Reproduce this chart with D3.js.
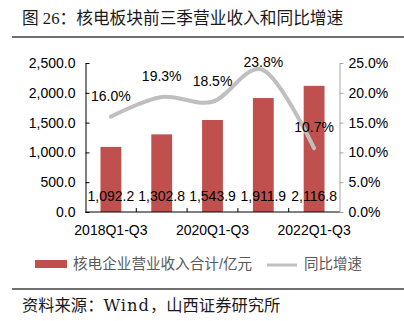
<!DOCTYPE html>
<html><head><meta charset="utf-8">
<script src="https://cdn.jsdelivr.net/npm/d3@7"></script>
<style>html,body{margin:0;padding:0;background:#fff;}</style>
</head><body><div id="chart"></div>
<script>
const categories = ["2018Q1-Q3","2019Q1-Q3","2020Q1-Q3","2021Q1-Q3","2022Q1-Q3"];
const revenue = [1092.2, 1302.8, 1543.9, 1911.9, 2116.8];
const growth = [16.0, 19.3, 18.5, 23.8, 10.7];
const leftTicks = [0, 500, 1000, 1500, 2000, 2500];
const rightTicks = [0, 5, 10, 15, 20, 25];
const shownCategories = ["2018Q1-Q3","2020Q1-Q3","2022Q1-Q3"];
const title = "图 26：核电板块前三季营业收入和同比增速";
const seriesNames = ["核电企业营业收入合计/亿元", "同比增速"];
const sourceParts = ["资料来源：", "Wind", "，山西证券研究所"];

const W = 404, H = 321;
const svg = d3.select("#chart").append("svg").attr("width", W).attr("height", H)
  .style("font-family", "'Liberation Sans', Arial, sans-serif");

const cjk = "'Liberation Serif', 'Noto Sans CJK SC', serif";
const cjkSans = "'Liberation Sans', 'Noto Sans CJK SC', sans-serif";

svg.append("text").attr("x", 22).attr("y", 18).attr("dominant-baseline", "central")
  .style("font-family", cjk).style("font-size", "16.7px").attr("fill", "#1a1a1a").text(title);
svg.append("line").attr("x1", 12).attr("x2", W).attr("y1", 37).attr("y2", 37)
  .attr("stroke", "#404040").attr("stroke-width", 1.3);

const pLeft = 85.5, pRight = 339.5, pTop = 63, pBottom = 212;
const x = d3.scaleBand().domain(categories).range([pLeft, pRight]).paddingInner(0.59).paddingOuter(0.295);
const yL = d3.scaleLinear().domain([0, 2500]).range([pBottom, pTop]);
const yR = d3.scaleLinear().domain([0, 25]).range([pBottom, pTop]);
const cx = d => x(d) + x.bandwidth() / 2;

// bars
svg.append("g").selectAll("rect").data(revenue).join("rect")
  .attr("x", (d, i) => x(categories[i])).attr("width", x.bandwidth())
  .attr("y", d => yL(d)).attr("height", d => yL(0) - yL(d)).attr("fill", "#c0504d");

// left axis
const gL = svg.append("g").attr("transform", `translate(${pLeft},0)`)
  .call(d3.axisLeft(yL).tickValues(leftTicks).tickFormat(d3.format(",.1f"))
    .tickSizeInner(-4).tickSizeOuter(0).tickPadding(10));
gL.selectAll("path,line").attr("stroke", "#000");
gL.selectAll("text").style("font-size", "14px").attr("fill", "#000");

// right axis
const gR = svg.append("g").attr("transform", `translate(${pRight},0)`)
  .call(d3.axisRight(yR).tickValues(rightTicks).tickFormat(d => d3.format(".1f")(d) + "%")
    .tickSizeInner(4).tickSizeOuter(0).tickPadding(5));
gR.selectAll("path,line").attr("stroke", "#a6a6a6");
gR.selectAll("text").style("font-size", "14px").attr("fill", "#000");

// bottom axis
const gB = svg.append("g").attr("transform", `translate(0,${pBottom})`)
  .call(d3.axisBottom(x).tickValues(shownCategories).tickSize(0).tickPadding(13));
gB.select(".domain").remove();
gB.selectAll("text").style("font-size", "14px").attr("fill", "#000");
gB.append("line").attr("x1", pLeft).attr("x2", pRight).attr("stroke", "#000");
gB.selectAll(".cattick").data(categories.slice(0, -1)).join("line").attr("class", "cattick")
  .attr("x1", d => cx(d) + x.step() / 2).attr("x2", d => cx(d) + x.step() / 2)
  .attr("y1", 0).attr("y2", -4).attr("stroke", "#000");

// growth line
const line = d3.line().x((d, i) => cx(categories[i])).y(d => yR(d)).curve(d3.curveCatmullRom.alpha(0));
svg.append("path").datum(growth).attr("d", line).attr("fill", "none")
  .attr("stroke", "#bfbfbf").attr("stroke-width", 4).attr("stroke-linecap", "round");

// bar value labels
svg.append("g").selectAll("text").data(revenue).join("text")
  .attr("x", (d, i) => cx(categories[i])).attr("y", yL(0) - 16)
  .attr("text-anchor", "middle").attr("dominant-baseline", "central")
  .style("font-size", "14px").attr("fill", "#000").text(d => d3.format(",.1f")(d));

// growth labels
svg.append("g").selectAll("text").data(growth).join("text")
  .attr("x", (d, i) => cx(categories[i])).attr("y", d => Math.max(yR(d) - 21, pTop - 1))
  .attr("text-anchor", "middle").attr("dominant-baseline", "central")
  .style("font-size", "14px").attr("fill", "#000").text(d => d3.format(".1f")(d) + "%");

// legend
svg.append("rect").attr("x", 35).attr("y", 260).attr("width", 32).attr("height", 8).attr("fill", "#c0504d");
svg.append("text").attr("x", 73).attr("y", 264).attr("dominant-baseline", "central")
  .style("font-family", cjkSans).style("font-size", "14.6px").attr("fill", "#595959").text(seriesNames[0]);
svg.append("line").attr("x1", 267).attr("x2", 297).attr("y1", 265).attr("y2", 265)
  .attr("stroke", "#bfbfbf").attr("stroke-width", 3);
svg.append("text").attr("x", 304).attr("y", 264).attr("dominant-baseline", "central")
  .style("font-family", cjkSans).style("font-size", "14.5px").attr("fill", "#595959").text(seriesNames[1]);

// source
svg.append("line").attr("x1", 12).attr("x2", W).attr("y1", 289).attr("y2", 289)
  .attr("stroke", "#404040").attr("stroke-width", 1.3);
const src = svg.append("text").attr("x", 22).attr("y", 305).attr("dominant-baseline", "central")
  .style("font-family", cjk).style("font-size", "16.3px").attr("fill", "#1a1a1a");
src.append("tspan").text(sourceParts[0]);
src.append("tspan").style("font-family", "'DejaVu Serif', serif").style("letter-spacing", "1px").text(sourceParts[1]);
src.append("tspan").text(sourceParts[2]);
</script></body></html>
